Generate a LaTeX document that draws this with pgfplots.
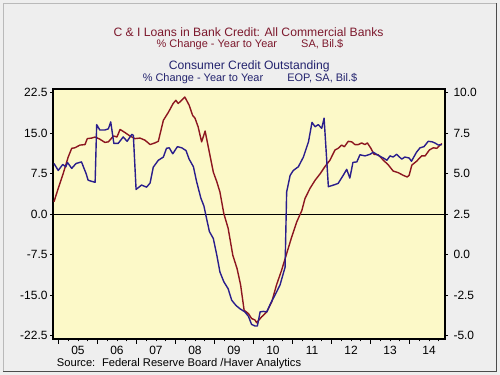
\documentclass[border=0pt]{standalone}
\usepackage{fontspec}
\setmainfont{Liberation Sans}
\usepackage{pgfplots}
\pgfplotsset{compat=1.18}
\definecolor{bgout}{RGB}{238,238,238}
\definecolor{bgplot}{RGB}{252,249,200}
\definecolor{cired}{RGB}{140,22,32}
\definecolor{ccblue}{RGB}{42,30,140}
\definecolor{tred}{RGB}{125,25,45}
\definecolor{tblue}{RGB}{35,35,110}
\begin{document}
\begin{tikzpicture}
\fill[bgout] (0,0) rectangle (500bp,375bp);
\draw[gray!55, line width=0.8bp] (3.3bp,3.3bp) -- (3.3bp,372bp) -- (496.7bp,372bp);
\draw[black!70, line width=1bp] (3.3bp,3.3bp) -- (496.7bp,3.3bp) -- (496.7bp,372bp);
\begin{axis}[
  at={(53bp,36bp)}, anchor=south west, scale only axis,
  width=392bp, height=250bp,
  xmin=2004.86, xmax=2014.91, ymin=-23.11, ymax=23.19,
  axis background/.style={fill=bgplot},
  axis line style={line width=1.1bp},
  tick align=outside, xtick pos=bottom, ytick pos=left,
  ytick={-22.5,-15,-7.5,0,7.5,15,22.5},
  xtick={2005.5,2006.5,2007.5,2008.5,2009.5,2010.5,2011.5,2012.5,2013.5,2014.5},
  xticklabels={05,06,07,08,09,10,11,12,13,14},
  major tick length=0pt,
  minor xtick={2005,2005.25,2005.5,2005.75,2006,2006.25,2006.5,2006.75,2007,2007.25,2007.5,2007.75,2008,2008.25,2008.5,2008.75,2009,2009.25,2009.5,2009.75,2010,2010.25,2010.5,2010.75,2011,2011.25,2011.5,2011.75,2012,2012.25,2012.5,2012.75,2013,2013.25,2013.5,2013.75,2014,2014.25,2014.5,2014.75},
  minor tick length=2.5bp,
  extra x ticks={2005,2006,2007,2008,2009,2010,2011,2012,2013,2014},
  extra x tick labels={},
  extra x tick style={major tick length=5bp},
  extra y ticks={-22.5,-15,-7.5,0,7.5,15,22.5},
  extra y tick labels={},
  extra y tick style={major tick length=3bp},
  every tick/.style={black, line width=0.8bp},
  ticklabel style={font=\fontsize{12}{12}\selectfont},
  xticklabel style={yshift=-4bp},
  yticklabel style={xshift=-2bp},
  /pgf/number format/.cd, fixed, fixed zerofill, precision=1, assume math mode=true,
]
\draw[black, line width=0.7bp] (rel axis cs:0,0.4991) -- (rel axis cs:1,0.4991);
\addplot[cired, line width=1.4bp, line join=round] coordinates {
(2004.885,2.3) (2004.995,4.8) (2005.12,7.5) (2005.25,10.6) (2005.34,12.2) (2005.42,12.3)
(2005.55,12.8) (2005.68,12.9) (2005.74,14.0) (2005.85,14.1) (2005.94,14.3) (2006.06,13.9)
(2006.19,13.3) (2006.28,13.4) (2006.41,14.5) (2006.50,14.3) (2006.58,15.7) (2006.71,15.1)
(2006.83,14.5) (2006.96,14.0) (2007.09,14.1) (2007.22,13.7) (2007.35,12.9) (2007.47,13.2)
(2007.56,13.5) (2007.69,17.4) (2007.82,18.9) (2007.94,20.5) (2008.01,21.1) (2008.07,20.5)
(2008.24,21.7) (2008.35,20.2) (2008.44,18.3) (2008.50,17.8) (2008.58,16.2) (2008.67,13.4)
(2008.76,15.4) (2008.84,12.5) (2008.97,7.8) (2009.06,6.0) (2009.14,4.1) (2009.24,0.1)
(2009.35,-2.6) (2009.47,-7.6) (2009.58,-10.1) (2009.67,-13.1) (2009.76,-17.8) (2009.87,-18.4)
(2009.95,-19.3) (2010.04,-19.6) (2010.08,-20.1) (2010.21,-19.0) (2010.34,-18.1) (2010.47,-16.2)
(2010.59,-13.1) (2010.72,-10.4) (2010.85,-7.3) (2010.98,-4.2) (2011.11,-1.4) (2011.24,0.7)
(2011.32,2.9) (2011.45,4.8) (2011.58,6.3) (2011.71,7.5) (2011.83,8.8) (2011.96,10.0)
(2012.09,11.9) (2012.17,12.2) (2012.26,12.8) (2012.33,12.5) (2012.43,13.5) (2012.52,13.4)
(2012.60,12.9) (2012.69,12.9) (2012.77,13.2) (2012.86,12.9) (2012.92,13.2) (2013.01,12.2)
(2013.09,11.1) (2013.20,11.0) (2013.33,10.0) (2013.46,9.1) (2013.58,8.0) (2013.71,7.7)
(2013.84,7.2) (2013.94,6.9) (2013.99,7.2) (2014.06,9.1) (2014.18,9.8) (2014.31,10.8)
(2014.40,10.8) (2014.51,11.9) (2014.61,12.3) (2014.70,12.2) (2014.74,12.5) (2014.83,13.1)
};
\end{axis}
\begin{axis}[
  at={(53bp,36bp)}, anchor=south west, scale only axis,
  width=392bp, height=250bp,
  xmin=2004.86, xmax=2014.91, ymin=-5.203, ymax=10.23,
  axis x line=none, axis y line*=right,
  axis line style={line width=1.1bp},
  tick align=outside,
  ytick={-5,-2.5,0,2.5,5,7.5,10},
  major tick length=3bp,
  every tick/.style={black, line width=0.8bp},
  ticklabel style={font=\fontsize{12}{12}\selectfont},
  yticklabel style={xshift=2bp},
  /pgf/number format/.cd, fixed, fixed zerofill, precision=1, assume math mode=true,
]
\addplot[ccblue, line width=1.4bp, line join=round] coordinates {
(2004.885,5.63) (2004.995,5.20) (2005.11,5.57) (2005.19,5.43) (2005.23,5.70) (2005.34,5.33)
(2005.45,5.63) (2005.59,5.73) (2005.71,5.00) (2005.76,4.60) (2005.85,4.53) (2005.94,4.47)
(2005.98,8.03) (2006.06,7.70) (2006.19,7.70) (2006.28,7.77) (2006.34,8.20) (2006.42,6.87)
(2006.53,6.87) (2006.66,7.27) (2006.76,7.00) (2006.88,7.43) (2006.92,7.37) (2006.99,4.03)
(2007.13,4.30) (2007.26,4.17) (2007.35,4.43) (2007.43,5.40) (2007.56,5.83) (2007.69,6.03)
(2007.77,6.57) (2007.84,6.60) (2007.93,6.23) (2008.05,6.67) (2008.16,6.60) (2008.27,6.43)
(2008.35,5.90) (2008.46,5.43) (2008.54,4.53) (2008.65,3.50) (2008.73,3.00) (2008.80,2.20)
(2008.87,1.43) (2008.97,1.00) (2009.06,-0.03) (2009.14,-1.07) (2009.24,-1.67) (2009.35,-2.10)
(2009.44,-2.80) (2009.55,-3.13) (2009.65,-3.33) (2009.78,-3.53) (2009.87,-3.80) (2009.95,-4.30)
(2010.04,-4.40) (2010.10,-4.40) (2010.17,-3.53) (2010.25,-3.50) (2010.34,-3.53) (2010.44,-3.00)
(2010.55,-2.50) (2010.68,-1.87) (2010.81,-0.77) (2010.85,3.87) (2010.94,4.90) (2011.02,5.20)
(2011.15,5.43) (2011.28,6.03) (2011.41,6.97) (2011.50,8.17) (2011.58,7.90) (2011.66,8.03)
(2011.75,7.80) (2011.81,8.43) (2011.92,4.20) (2012.05,4.30) (2012.17,4.40) (2012.30,4.90)
(2012.39,5.27) (2012.47,4.73) (2012.55,5.70) (2012.65,5.73) (2012.73,6.17) (2012.86,6.10)
(2012.99,6.20) (2013.07,6.33) (2013.20,6.13) (2013.33,5.97) (2013.42,5.83) (2013.50,6.10)
(2013.58,6.03) (2013.67,6.20) (2013.80,5.90) (2013.88,6.03) (2013.99,5.97) (2014.05,5.77)
(2014.18,6.33) (2014.27,6.60) (2014.37,6.67) (2014.48,7.00) (2014.58,6.97) (2014.65,6.90)
(2014.74,6.77) (2014.83,6.80)
};
\end{axis}
\node[tred, font=\fontsize{12.2}{14}\selectfont] at (248.5bp,343bp) {C \& I Loans in Bank Credit: All Commercial Banks};
\node[tred, font=\fontsize{11}{13}\selectfont] at (250bp,330.5bp) {\% Change - Year to Year\hspace{2.2em}SA, Bil.\$};
\node[tblue, font=\fontsize{12.2}{14}\selectfont] at (249.2bp,308.3bp) {Consumer Credit Outstanding};
\node[tblue, font=\fontsize{11}{13}\selectfont] at (250bp,296bp) {\% Change - Year to Year\hspace{2.2em}EOP, SA, Bil.\$};
\node[black, anchor=west, inner sep=0pt, font=\fontsize{11.2}{13}\selectfont] at (56.7bp,11.7bp) {Source:\hspace{0.6em}Federal Reserve Board /Haver Analytics};
\pgfresetboundingbox
\path[use as bounding box] (0,0) rectangle (500bp,375bp);
\end{tikzpicture}
\end{document}
